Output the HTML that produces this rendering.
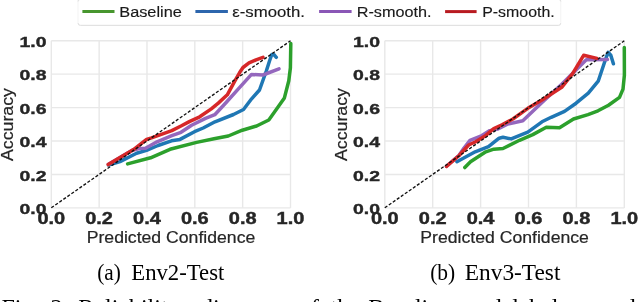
<!DOCTYPE html><html><head><meta charset="utf-8"><style>html,body{margin:0;padding:0;background:#fff;width:640px;height:302px;overflow:hidden}svg{display:block;will-change:transform}</style></head><body><svg width="640" height="302" viewBox="0 0 640 302">
<style>
.tk{font-family:"Liberation Sans",sans-serif;font-weight:bold;font-size:15.5px;fill:#262626;stroke:#262626;stroke-width:0.4px}
.tkx{font-size:15.7px}
.lb{font-family:"Liberation Sans",sans-serif;font-size:15.8px;fill:#262626;stroke:#262626;stroke-width:0.2px}
.lg{font-family:"Liberation Sans",sans-serif;font-size:15.4px;fill:#1a1a1a;stroke:#1a1a1a;stroke-width:0.15px}
.cap{font-family:"Liberation Serif",serif;font-size:23px;fill:#000}
.cap2{font-family:"Liberation Serif",serif;font-size:24px;fill:#000}
</style>
<rect width="640" height="302" fill="#fff"/>
<rect x="78" y="-2" width="482.8" height="27" rx="2.5" fill="#fff" stroke="#f3f3f3" stroke-width="1"/>
<path d="M78,23 Q78,25.5 80.5,25.5 L558.3,25.5 Q560.8,25.5 560.8,23" fill="none" stroke="#e2e2e2" stroke-width="1"/>
<path d="M78,1.5 Q78,-0.5 80,-0.5 M558.8,-0.5 Q560.8,-0.5 560.8,1.5" fill="none" stroke="#e0e0e0" stroke-width="1"/>
<line x1="82.4" y1="11.6" x2="114.5" y2="11.6" stroke="#47962e" stroke-width="3"/>
<text x="119.3" y="17" class="lg" textLength="62.500000000000014" lengthAdjust="spacingAndGlyphs">Baseline</text>
<line x1="195.4" y1="11.6" x2="227.9" y2="11.6" stroke="#2d66ad" stroke-width="3"/>
<text x="232.3" y="17" class="lg" textLength="72.59999999999997" lengthAdjust="spacingAndGlyphs">ε-smooth.</text>
<line x1="319.1" y1="11.6" x2="351.6" y2="11.6" stroke="#8a57b6" stroke-width="3"/>
<text x="356.7" y="17" class="lg" textLength="74.80000000000001" lengthAdjust="spacingAndGlyphs">R-smooth.</text>
<line x1="445.1" y1="11.6" x2="476.6" y2="11.6" stroke="#b81a20" stroke-width="3"/>
<text x="482.2" y="17" class="lg" textLength="72.50000000000006" lengthAdjust="spacingAndGlyphs">P-smooth.</text>
<g stroke="#e8e8e8" stroke-width="1.4"><line x1="51.30" y1="40.7" x2="51.30" y2="207.9"/><line x1="51.3" y1="207.90" x2="290.5" y2="207.90"/><line x1="99.14" y1="40.7" x2="99.14" y2="207.9"/><line x1="51.3" y1="174.46" x2="290.5" y2="174.46"/><line x1="146.98" y1="40.7" x2="146.98" y2="207.9"/><line x1="51.3" y1="141.02" x2="290.5" y2="141.02"/><line x1="194.82" y1="40.7" x2="194.82" y2="207.9"/><line x1="51.3" y1="107.58" x2="290.5" y2="107.58"/><line x1="242.66" y1="40.7" x2="242.66" y2="207.9"/><line x1="51.3" y1="74.14" x2="290.5" y2="74.14"/><line x1="290.50" y1="40.7" x2="290.50" y2="207.9"/><line x1="51.3" y1="40.70" x2="290.5" y2="40.70"/></g>
<polyline points="127.6,163.9 150.6,157.8 170.0,149.3 196.6,142.4 214.0,138.8 228.3,136.0 242.3,130.2 256.6,126.0 268.8,120.0 277.5,107.8 284.4,97.9 288.8,80.7 290.4,67.8 290.8,43.5" fill="none" stroke="#2ca02c" stroke-width="3.5" stroke-linejoin="round" stroke-linecap="round"/>
<polyline points="108.5,165.0 120.0,161.6 136.6,153.3 146.5,150.4 158.0,145.5 171.5,140.8 180.0,139.4 194.5,131.7 203.2,128.0 215.0,121.8 233.5,114.5 243.5,109.5 251.6,98.8 259.5,90.0 266.3,71.0 269.5,61.0 271.8,54.5 273.8,54.5 276.3,57.3" fill="none" stroke="#1f77b4" stroke-width="3.5" stroke-linejoin="round" stroke-linecap="round"/>
<polyline points="108.5,164.2 132.0,150.5 139.0,148.5 145.5,148.2 157.0,141.8 171.8,135.6 181.0,132.3 191.6,125.2 205.5,118.4 214.8,114.7 220.6,108.5 226.8,101.8 239.5,87.6 251.5,74.4 262.9,75.0 279.0,68.8" fill="none" stroke="#9467bd" stroke-width="3.5" stroke-linejoin="round" stroke-linecap="round"/>
<polyline points="108.2,164.6 133.5,149.6 146.6,139.3 151.5,137.8 171.8,130.6 181.0,126.0 189.3,121.6 199.7,116.8 211.3,108.9 218.3,103.1 227.3,94.8 234.6,81.4 239.8,72.3 243.0,67.5 249.0,62.9 256.0,59.9 263.0,57.4" fill="none" stroke="#d62728" stroke-width="3.5" stroke-linejoin="round" stroke-linecap="round"/>
<line x1="51.3" y1="207.8" x2="290.5" y2="40.800000000000004" stroke="#111" stroke-width="1.35" stroke-dasharray="3.1,1.8"/>
<text x="46.5" y="213.9" text-anchor="end" class="tk" textLength="27" lengthAdjust="spacingAndGlyphs">0.0</text>
<text x="46.5" y="180.5" text-anchor="end" class="tk" textLength="27" lengthAdjust="spacingAndGlyphs">0.2</text>
<text x="46.5" y="147.0" text-anchor="end" class="tk" textLength="27" lengthAdjust="spacingAndGlyphs">0.4</text>
<text x="46.5" y="113.6" text-anchor="end" class="tk" textLength="27" lengthAdjust="spacingAndGlyphs">0.6</text>
<text x="46.5" y="80.1" text-anchor="end" class="tk" textLength="27" lengthAdjust="spacingAndGlyphs">0.8</text>
<text x="46.5" y="46.7" text-anchor="end" class="tk" textLength="27" lengthAdjust="spacingAndGlyphs">1.0</text>
<text x="37.4" y="224.0" class="tk tkx" textLength="27.8" lengthAdjust="spacingAndGlyphs">0.0</text>
<text x="85.2" y="224.0" class="tk tkx" textLength="27.8" lengthAdjust="spacingAndGlyphs">0.2</text>
<text x="133.1" y="224.0" class="tk tkx" textLength="27.8" lengthAdjust="spacingAndGlyphs">0.4</text>
<text x="180.9" y="224.0" class="tk tkx" textLength="27.8" lengthAdjust="spacingAndGlyphs">0.6</text>
<text x="228.8" y="224.0" class="tk tkx" textLength="27.8" lengthAdjust="spacingAndGlyphs">0.8</text>
<text x="276.6" y="224.0" class="tk tkx" textLength="27.8" lengthAdjust="spacingAndGlyphs">1.0</text>
<text x="86.7" y="242.5" class="lb" textLength="168.6" lengthAdjust="spacingAndGlyphs">Predicted Confidence</text>
<text transform="translate(13.4,161.0) rotate(-90)" x="0" y="0" class="lb" textLength="73" lengthAdjust="spacingAndGlyphs">Accuracy</text>
<g stroke="#e8e8e8" stroke-width="1.4"><line x1="384.80" y1="40.7" x2="384.80" y2="207.9"/><line x1="384.8" y1="207.90" x2="624.3" y2="207.90"/><line x1="432.70" y1="40.7" x2="432.70" y2="207.9"/><line x1="384.8" y1="174.46" x2="624.3" y2="174.46"/><line x1="480.60" y1="40.7" x2="480.60" y2="207.9"/><line x1="384.8" y1="141.02" x2="624.3" y2="141.02"/><line x1="528.50" y1="40.7" x2="528.50" y2="207.9"/><line x1="384.8" y1="107.58" x2="624.3" y2="107.58"/><line x1="576.40" y1="40.7" x2="576.40" y2="207.9"/><line x1="384.8" y1="74.14" x2="624.3" y2="74.14"/><line x1="624.30" y1="40.7" x2="624.30" y2="207.9"/><line x1="384.8" y1="40.70" x2="624.3" y2="40.70"/></g>
<polyline points="464.8,167.6 470.5,161.8 485.8,151.8 493.8,149.2 503.0,148.5 519.5,140.3 532.8,134.6 546.3,127.2 559.5,127.7 573.5,119.0 588.0,114.6 598.0,110.8 608.5,105.2 619.5,97.4 623.0,89.1 624.4,75.0 624.3,47.5" fill="none" stroke="#2ca02c" stroke-width="3.5" stroke-linejoin="round" stroke-linecap="round"/>
<polyline points="456.9,161.7 475.2,151.8 488.5,146.6 499.1,138.2 503.0,137.3 511.2,138.9 527.8,132.2 542.0,121.8 551.2,117.3 564.5,111.4 576.1,103.2 588.3,93.2 598.2,81.2 604.8,61.5 608.1,52.3 610.8,55.2 613.4,63.8" fill="none" stroke="#1f77b4" stroke-width="3.5" stroke-linejoin="round" stroke-linecap="round"/>
<polyline points="446.5,166.3 459.1,155.3 464.0,148.0 470.0,140.3 481.9,135.6 489.8,130.6 498.0,129.0 507.9,124.0 522.8,120.7 542.0,102.5 561.7,84.2 586.3,59.8 607.5,59.6" fill="none" stroke="#9467bd" stroke-width="3.5" stroke-linejoin="round" stroke-linecap="round"/>
<polyline points="446.5,166.3 459.1,155.5 468.6,145.0 475.2,142.0 485.8,135.4 493.8,128.5 502.0,124.8 512.9,119.0 527.8,108.3 542.0,100.0 561.7,87.3 572.6,73.7 583.6,55.3 597.0,58.4" fill="none" stroke="#d62728" stroke-width="3.5" stroke-linejoin="round" stroke-linecap="round"/>
<line x1="384.8" y1="207.8" x2="624.3" y2="40.800000000000004" stroke="#111" stroke-width="1.35" stroke-dasharray="3.1,1.8"/>
<text x="380.0" y="213.9" text-anchor="end" class="tk" textLength="27" lengthAdjust="spacingAndGlyphs">0.0</text>
<text x="380.0" y="180.5" text-anchor="end" class="tk" textLength="27" lengthAdjust="spacingAndGlyphs">0.2</text>
<text x="380.0" y="147.0" text-anchor="end" class="tk" textLength="27" lengthAdjust="spacingAndGlyphs">0.4</text>
<text x="380.0" y="113.6" text-anchor="end" class="tk" textLength="27" lengthAdjust="spacingAndGlyphs">0.6</text>
<text x="380.0" y="80.1" text-anchor="end" class="tk" textLength="27" lengthAdjust="spacingAndGlyphs">0.8</text>
<text x="380.0" y="46.7" text-anchor="end" class="tk" textLength="27" lengthAdjust="spacingAndGlyphs">1.0</text>
<text x="370.9" y="224.0" class="tk tkx" textLength="27.8" lengthAdjust="spacingAndGlyphs">0.0</text>
<text x="418.8" y="224.0" class="tk tkx" textLength="27.8" lengthAdjust="spacingAndGlyphs">0.2</text>
<text x="466.7" y="224.0" class="tk tkx" textLength="27.8" lengthAdjust="spacingAndGlyphs">0.4</text>
<text x="514.6" y="224.0" class="tk tkx" textLength="27.8" lengthAdjust="spacingAndGlyphs">0.6</text>
<text x="562.5" y="224.0" class="tk tkx" textLength="27.8" lengthAdjust="spacingAndGlyphs">0.8</text>
<text x="610.4" y="224.0" class="tk tkx" textLength="27.8" lengthAdjust="spacingAndGlyphs">1.0</text>
<text x="420.3" y="242.5" class="lb" textLength="168.6" lengthAdjust="spacingAndGlyphs">Predicted Confidence</text>
<text transform="translate(346.9,161.0) rotate(-90)" x="0" y="0" class="lb" textLength="73" lengthAdjust="spacingAndGlyphs">Accuracy</text>
<text x="97.2" y="279.5" class="cap" textLength="23.6" lengthAdjust="spacingAndGlyphs">(a)</text>
<text x="131.3" y="279.5" class="cap" textLength="93" lengthAdjust="spacingAndGlyphs">Env2-Test</text>
<text x="430.2" y="279.5" class="cap" textLength="25" lengthAdjust="spacingAndGlyphs">(b)</text>
<text x="464.8" y="279.5" class="cap" textLength="95.6" lengthAdjust="spacingAndGlyphs">Env3-Test</text>
<text x="1.5" y="314.5" class="cap2">Fig.</text>
<text x="50.5" y="314.5" class="cap2">2:</text>
<text x="78.3" y="314.5" class="cap2">Reliability</text>
<text x="201" y="314.5" class="cap2">diagrams</text>
<text x="299" y="314.5" class="cap2">of</text>
<text x="330.5" y="314.5" class="cap2">the</text>
<text x="368.3" y="314.5" class="cap2">Baseline</text>
<text x="459" y="314.5" class="cap2">model</text>
<text x="529" y="314.5" class="cap2">helps</text>
<text x="601" y="314.5" class="cap2">and</text>
</svg></body></html>
